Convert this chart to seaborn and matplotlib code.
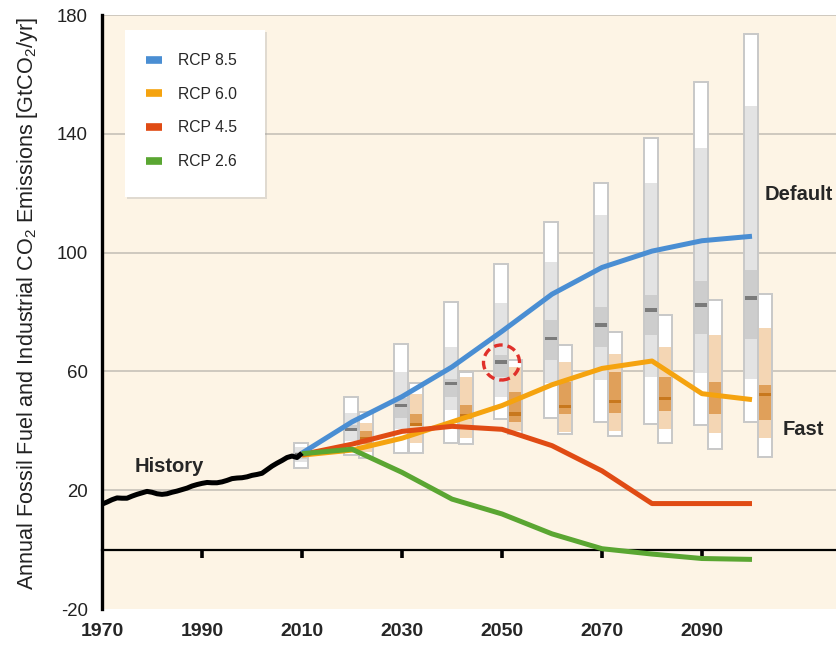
import numpy as np
import pandas as pd
import matplotlib
matplotlib.use("Agg")
import matplotlib.pyplot as plt
import matplotlib.patheffects as pe
from matplotlib.patches import Ellipse, Rectangle
from matplotlib.lines import Line2D
from matplotlib import font_manager as fm
import seaborn as sns

# ---------------------------------------------------------------- data
hist_years = list(range(1970, 2011))
hist_values = [15.3, 16.0, 16.8, 17.4, 17.3, 17.3, 18.0, 18.6, 19.1, 19.6,
               19.3, 18.8, 18.6, 18.8, 19.3, 19.7, 20.2, 20.7, 21.4, 21.9,
               22.3, 22.6, 22.5, 22.5, 22.8, 23.3, 23.9, 24.1, 24.2, 24.5,
               25.0, 25.3, 25.7, 26.9, 28.1, 29.1, 30.0, 31.0, 31.5, 31.0,
               32.5]

rcp_years = [2010, 2020, 2030, 2040, 2050, 2060, 2070, 2080, 2090, 2100]
rcp85 = [32.5, 43.0, 51.5, 61.5, 73.5, 86.0, 95.0, 100.5, 104.0, 105.5]
rcp60 = [31.8, 33.5, 37.5, 43.0, 48.5, 55.5, 61.0, 63.5, 52.5, 50.5]
rcp45 = [32.0, 35.5, 39.8, 41.5, 40.5, 35.0, 26.5, 15.5, 15.5, 15.5]
rcp26 = [32.3, 33.8, 26.0, 17.0, 12.0, 5.3, 0.3, -1.5, -3.0, -3.3]
rcp_names = ["RCP 8.5", "RCP 6.0", "RCP 4.5", "RCP 2.6"]
rcp_colors = ["#4a8ed3", "#f5a30f", "#e04b14", "#5aa632"]

# "Default" technology scenario ranges (grey bars)
default_years = [2010, 2020, 2030, 2040, 2050, 2060, 2070, 2080, 2090, 2100]
default_min = [27.5, 32.0, 32.4, 36.0, 44.0, 44.2, 43.1, 42.2, 42.1, 42.9]
default_p10 = [29.5, 36.5, 40.5, 47.1, 51.5, 56.0, 57.2, 58.2, 59.3, 57.6]
default_p25 = [30.5, 39.8, 44.4, 51.5, 58.2, 63.9, 68.2, 72.2, 72.7, 70.9]
default_med = [32.0, 40.5, 48.5, 56.0, 63.2, 71.0, 75.6, 80.7, 82.4, 84.7]
default_p75 = [33.0, 42.1, 51.0, 57.6, 65.5, 77.3, 81.6, 85.7, 90.6, 94.3]
default_p90 = [34.5, 45.9, 59.9, 68.2, 83.0, 96.7, 112.8, 123.4, 135.1, 149.2]
default_max = [35.8, 51.5, 69.3, 83.3, 96.3, 110.4, 123.4, 138.5, 157.5, 173.6]

# "Fast" technology scenario ranges (orange bars)
fast_years = [2020, 2030, 2040, 2050, 2060, 2070, 2080, 2090, 2100]
fast_min = [30.8, 32.4, 35.5, 38.8, 38.8, 38.1, 35.9, 33.8, 31.1]
fast_p10 = [33.0, 36.0, 37.5, 39.8, 39.5, 39.8, 40.5, 39.2, 37.5]
fast_p25 = [35.5, 41.5, 44.1, 43.1, 45.5, 45.9, 46.5, 45.5, 43.8]
fast_med = [37.5, 42.2, 45.2, 45.7, 48.2, 49.8, 50.9, 52.0, 52.3]
fast_p75 = [39.8, 45.5, 48.8, 53.0, 56.5, 59.9, 58.2, 56.5, 55.5]
fast_p90 = [42.6, 52.5, 58.2, 61.5, 63.2, 66.0, 68.2, 72.2, 74.6]
fast_max = [46.3, 56.0, 59.9, 63.9, 68.9, 73.2, 78.9, 83.9, 86.1]

y_ticks = [-20, 20, 60, 100, 140, 180]
x_tick_marks = [1990, 2010, 2030, 2050, 2070, 2090]
x_tick_labels = [1970, 1990, 2010, 2030, 2050, 2070, 2090]

# ---------------------------------------------------------------- style
sns.set_theme(style="white")
available = {f.name for f in fm.fontManager.ttflist}
plt.rcParams["font.family"] = ["Liberation Sans", "DejaVu Sans"]
plt.rcParams["mathtext.default"] = "regular"
plt.rcParams["axes.unicode_minus"] = False
if "Liberation Sans Narrow" in available:
    year_font = dict(family=["Liberation Sans Narrow", "DejaVu Sans"], size=16, weight="bold")
else:
    year_font = dict(family=["Liberation Sans", "DejaVu Sans"], size=14, weight="bold")

fig = plt.figure(figsize=(8.37, 6.5), dpi=100)
fig.patch.set_facecolor("white")
ax = fig.add_axes([102 / 837, 1 - 609 / 650, 735 / 837, 594 / 650])
ax.set_facecolor("#fdf4e5")
ax.set_xlim(1970, 2117)
ax.set_ylim(-20, 180)

# horizontal guide lines
ax.set_yticks(y_ticks)
ax.grid(axis="y", color="#cbc5bb", lw=1.3, zorder=1)
ax.grid(axis="x", visible=False)
ax.get_ygridlines()[0].set_visible(False)
ax.set_axisbelow(True)

# ---------------------------------------------------------------- range bars
BAR_W = 2.8


def range_bars(years, offset, lo, p10, p25, med, p75, p90, hi, light, dark, medc):
    x = np.asarray(years, float) + offset
    lo, p10, p25, med, p75, p90, hi = map(np.asarray, (lo, p10, p25, med, p75, p90, hi))
    ax.bar(x, hi - lo, bottom=lo, width=BAR_W, color="white", lw=0, zorder=2)
    ax.bar(x, p90 - p10, bottom=p10, width=BAR_W, color=light, lw=0, zorder=2.1)
    ax.bar(x, p75 - p25, bottom=p25, width=BAR_W, color=dark, lw=0, zorder=2.2)
    ax.bar(x, 1.1, bottom=med - 0.55, width=BAR_W, color=medc, lw=0, zorder=2.3)
    ax.bar(x, hi - lo, bottom=lo, width=BAR_W, fill=False,
           edgecolor="#c8c8c8", lw=1.4, zorder=2.4)


range_bars(default_years, -0.2, default_min, default_p10, default_p25, default_med,
           default_p75, default_p90, default_max, "#e3e3e3", "#cdcdcd", "#7a7a7a")
range_bars(fast_years, 2.7, fast_min, fast_p10, fast_p25, fast_med,
           fast_p75, fast_p90, fast_max, "#f4d6b4", "#e0a05a", "#c8781e")

# ---------------------------------------------------------------- lines
rcp_df = pd.DataFrame({
    "year": rcp_years * 4,
    "value": rcp85 + rcp60 + rcp45 + rcp26,
    "scenario": sum([[n] * len(rcp_years) for n in rcp_names], []),
})
draw_order = ["RCP 6.0", "RCP 4.5", "RCP 8.5", "RCP 2.6"]
sns.lineplot(data=rcp_df, x="year", y="value", hue="scenario",
             hue_order=draw_order, palette=dict(zip(rcp_names, rcp_colors)),
             errorbar=None, lw=3.6, legend=False, ax=ax, zorder=4,
             solid_capstyle="butt")
sns.lineplot(x=hist_years, y=hist_values, color="black", lw=3.6, ax=ax,
             zorder=4.5, solid_capstyle="butt")

# highlighted value
ax.add_patch(Ellipse((2049.9, 63.0), width=7.2, height=11.8, fill=False,
                     edgecolor="#e0302a", lw=2.4, ls=(0, (2.6, 1.5)), zorder=6))

# annotations
ax.text(1976.6, 28.1, "History", fontsize=14.5, fontweight="bold",
        ha="left", va="center", zorder=7)
ax.text(2102.6, 119.7, "Default", fontsize=14.5, fontweight="bold",
        ha="left", va="center", zorder=7)
ax.text(2106.2, 40.5, "Fast", fontsize=14.5, fontweight="bold",
        ha="left", va="center", zorder=7)

# ---------------------------------------------------------------- legend
box = Rectangle((0.0313, 0.6936), 0.1905, 0.281, transform=ax.transAxes,
                facecolor="white", edgecolor="none", zorder=8,
                path_effects=[pe.withSimplePatchShadow(offset=(1.5, -1.5),
                                                       shadow_rgbFace="#a0a0a0",
                                                       alpha=0.3)])
ax.add_patch(box)
handles = [Line2D([0], [0], color=c, lw=5.5, solid_capstyle="butt") for c in rcp_colors]
leg = ax.legend(handles, rcp_names, loc="upper left",
                bbox_to_anchor=(0.049, 0.949), frameon=False, borderpad=0,
                handlelength=1.05, handletextpad=1.0, labelspacing=1.19,
                fontsize=11.3)
leg.set_zorder(9)

# ---------------------------------------------------------------- axes
ax.spines["top"].set_visible(False)
ax.spines["right"].set_visible(False)
ax.spines["left"].set_color("black")
ax.spines["left"].set_linewidth(2.4)
ax.spines["left"].set_zorder(5)
ax.spines["bottom"].set_position(("data", 0))
ax.spines["bottom"].set_color("black")
ax.spines["bottom"].set_linewidth(1.6)
ax.spines["bottom"].set_zorder(3)

ax.set_xticks(x_tick_marks)
ax.tick_params(axis="x", direction="out", length=6, width=2.6, color="black",
               labelbottom=False, bottom=True)
ax.tick_params(axis="y", length=0, pad=10, labelsize=13.4, labelcolor="#222222")
ax.set_xlabel("")
ax.set_ylabel("Annual Fossil Fuel and Industrial CO$_2$ Emissions [GtCO$_2$/yr]",
              fontsize=15.6, va="center", color="#222222")
ax.yaxis.set_label_coords(-0.101, 0.515)

years_axis = ax.secondary_xaxis(0.0)
years_axis.set_xticks(x_tick_labels)
years_axis.set_xticklabels([str(v) for v in x_tick_labels], **year_font)
years_axis.tick_params(length=0, pad=10)
years_axis.spines["bottom"].set_visible(False)

fig.savefig("out.png", dpi=100, facecolor="white")
